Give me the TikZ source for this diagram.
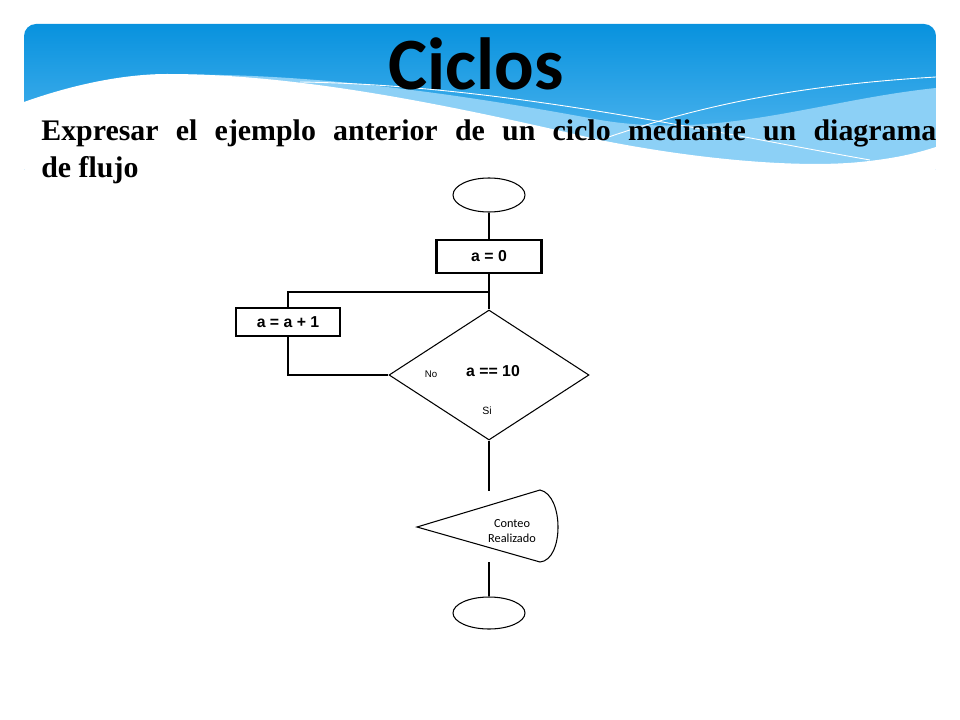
\documentclass[tikz,border=0pt]{standalone}
\usepackage{fontspec}
\setmainfont{Liberation Serif}
\newfontfamily\titlefont{Carlito}
\newfontfamily\boxfont{Liberation Sans}
\usetikzlibrary{shapes.geometric}
\definecolor{bannerTop}{HTML}{0892DE}
\definecolor{bannerBot}{HTML}{5CBBF1}
\definecolor{bannerLight}{HTML}{8CD0F6}
\tikzset{%
    terminal/.style={ellipse,draw,line width=0.6pt,minimum width=14.4mm,minimum height=6.8mm,inner sep=0pt},
    process/.style={rectangle,draw,line width=1.3pt,inner sep=0pt,font=\boxfont\bfseries\fontsize{9}{10}\selectfont},
    decision/.style={diamond,draw,line width=0.6pt,minimum width=40mm,minimum height=26mm,inner sep=0pt},
    flow/.style={line width=0.6pt},
    tag/.style={inner sep=0pt,font=\boxfont\fontsize{5.5}{6}\selectfont},
}

\begin{document}
\begin{tikzpicture}[x=0.2mm,y=-0.2mm]
	
	\useasboundingbox (0,0) rectangle (960,720);
	
	%banner
	\begin{scope}
	\clip[rounded corners=2.4mm] (24,24) rectangle (936,180);
	\shade[top color=bannerTop,bottom color=bannerBot] (24,24) rectangle (936,170);
	\fill[bannerLight] (167,75) .. controls (300,72) and (450,92) .. (600,120) .. controls (720,140) and (820,100) .. (936,88) -- (936,170) -- (167,170) -- cycle;
	\fill[white] (24,102) .. controls (80,82) and (130,74) .. (167,74) .. controls (300,74) and (450,105) .. (600,140) .. controls (700,160) and (800,168) .. (860,162) .. controls (900,158) and (920,152) .. (936,147) -- (936,180) -- (24,180) -- cycle;
	\draw[white,line width=0.5pt] (300,82) .. controls (500,85) and (700,130) .. (870,160);
	\draw[white,line width=0.5pt] (936,77) .. controls (800,85) and (700,105) .. (600,140);
	\end{scope}
	%%%%%%%%%%%%%%%%%%%
	
	\node[anchor=base,inner sep=0pt,font=\titlefont\bfseries\fontsize{42}{50}\selectfont] (title) at (476,90) {Ciclos};
	\node[anchor=north west,inner sep=0pt,text width=179mm,align=justify,font=\bfseries\fontsize{17}{21}\selectfont] (intro) at (41,119.5)
		{Expresar el ejemplo anterior de un ciclo mediante un diagrama\linebreak de flujo};
	
	%flow chart
	\node[terminal] (start) at (489,195) {};
	\node[process,minimum width=21mm,minimum height=6.6mm] (init) at (489,256.5) {a = 0};
	\coordinate (join) at (489,292);
	\node[decision] (cond) at (489,375) {};
	\node[process,minimum width=20.8mm,minimum height=5.6mm] (incr) at (288,322) {a = a + 1};
	
	\node[inner sep=0pt,font=\boxfont\bfseries\fontsize{9}{10}\selectfont] (condtxt) at (493,371) {a == 10};
	\node[tag] (no) at (431,374) {No};
	\node[tag,font=\boxfont\fontsize{6}{7}\selectfont] (si) at (487,411) {Si};
	
	\draw[flow] (417,527) -- (540,490) .. controls (564,495) and (564,560) .. (540,562) -- cycle;
	\node[align=center,inner sep=0pt,font=\titlefont\fontsize{7}{8.5}\selectfont] (done) at (512,531) {Conteo\\Realizado};
	
	\coordinate (outtop) at (489,491);
	\coordinate (outbot) at (489,562);
	\node[terminal,minimum height=6.4mm] (stop) at (489,613) {};
	
	\draw[flow] (start) -- (init);
	\draw[flow] (init) -- (join) -- (cond.north);
	\draw[flow] (join) -| (incr.north);
	\draw[flow] (incr.south) |- (cond.west);
	\draw[flow] (cond.south) -- (outtop);
	\draw[flow] (outbot) -- (stop);
	
\end{tikzpicture}
\end{document}
